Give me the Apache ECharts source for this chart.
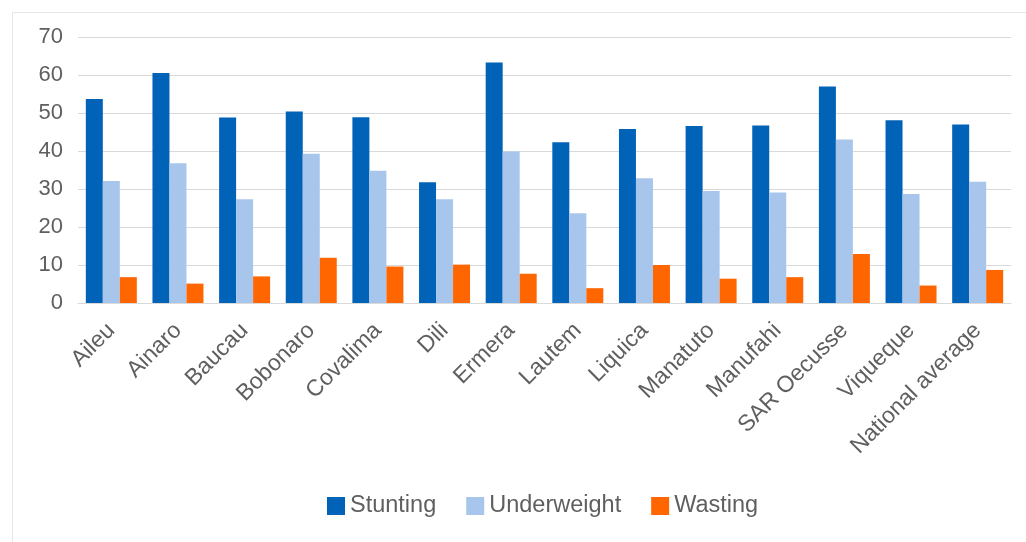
<!DOCTYPE html>
<html>
<head>
<meta charset="utf-8">
<script src="https://cdn.jsdelivr.net/npm/echarts@6/dist/echarts.min.js"></script>
<style>
  html, body { margin: 0; padding: 0; background: #fff; }
  #chart { width: 1026px; height: 542px; position: absolute; left: 0; top: 0; }
  #frame { position: absolute; left: 12px; top: 12px; width: 1014px; height: 530px;
           border-left: 1px solid #e6e6e6; border-top: 1px solid #e6e6e6; box-sizing: border-box; pointer-events: none; }
</style>
</head>
<body>
<div id="chart"></div>
<div id="frame"></div>
<script>
const categories = ['Aileu', 'Ainaro', 'Baucau', 'Bobonaro', 'Covalima', 'Dili', 'Ermera', 'Lautem', 'Liquica', 'Manatuto', 'Manufahi', 'SAR Oecusse', 'Viqueque', 'National average'];
const stunting    = [53.7, 60.5, 48.8, 50.4, 48.9, 31.8, 63.3, 42.3, 45.8, 46.6, 46.7, 57.0, 48.1, 47.0];
const underweight = [32.1, 36.8, 27.3, 39.3, 34.8, 27.3, 39.9, 23.6, 32.8, 29.5, 29.1, 43.0, 28.7, 31.9];
const wasting     = [6.8, 5.1, 7.0, 11.9, 9.6, 10.1, 7.7, 3.9, 10.0, 6.4, 6.8, 12.9, 4.6, 8.7];
const yTicks = { min: 0, max: 70, interval: 10 };

const textColor = '#5f5f5f';
const font = 'Liberation Sans, Arial, sans-serif';
const chart = echarts.init(document.getElementById('chart'), null, { renderer: 'canvas' });
chart.setOption({
  animation: false,
  textStyle: { fontFamily: font },
  grid: { left: 78, right: 15, top: 37, bottom: 239, containLabel: false },
  legend: {
    bottom: 19, left: 322,
    itemWidth: 18, itemHeight: 18, itemGap: 30,
    icon: 'rect',
    textStyle: { fontSize: 23.5, color: textColor, fontFamily: font },
    data: ['Stunting', 'Underweight', 'Wasting']
  },
  xAxis: {
    type: 'category',
    data: categories,
    axisLine: { show: true, lineStyle: { color: '#d9d9d9', width: 1 } },
    axisTick: { show: false },
    axisLabel: { rotate: 45, fontSize: 23, color: textColor, margin: 24, interval: 0, fontFamily: font }
  },
  yAxis: {
    type: 'value',
    min: yTicks.min, max: yTicks.max, interval: yTicks.interval,
    axisLine: { show: false },
    axisTick: { show: false },
    splitLine: { lineStyle: { color: '#d9d9d9', width: 1 } },
    axisLabel: { fontSize: 22, color: textColor, margin: 15, fontFamily: font }
  },
  series: [
    { name: 'Stunting', type: 'bar', data: stunting, barWidth: 17, barGap: '0%', itemStyle: { color: '#0063b8' } },
    { name: 'Underweight', type: 'bar', data: underweight, barWidth: 17, barGap: '0%', itemStyle: { color: '#a8c6ec' } },
    { name: 'Wasting', type: 'bar', data: wasting, barWidth: 17, barGap: '0%', itemStyle: { color: '#ff6600' } }
  ]
});
</script>
</body>
</html>
